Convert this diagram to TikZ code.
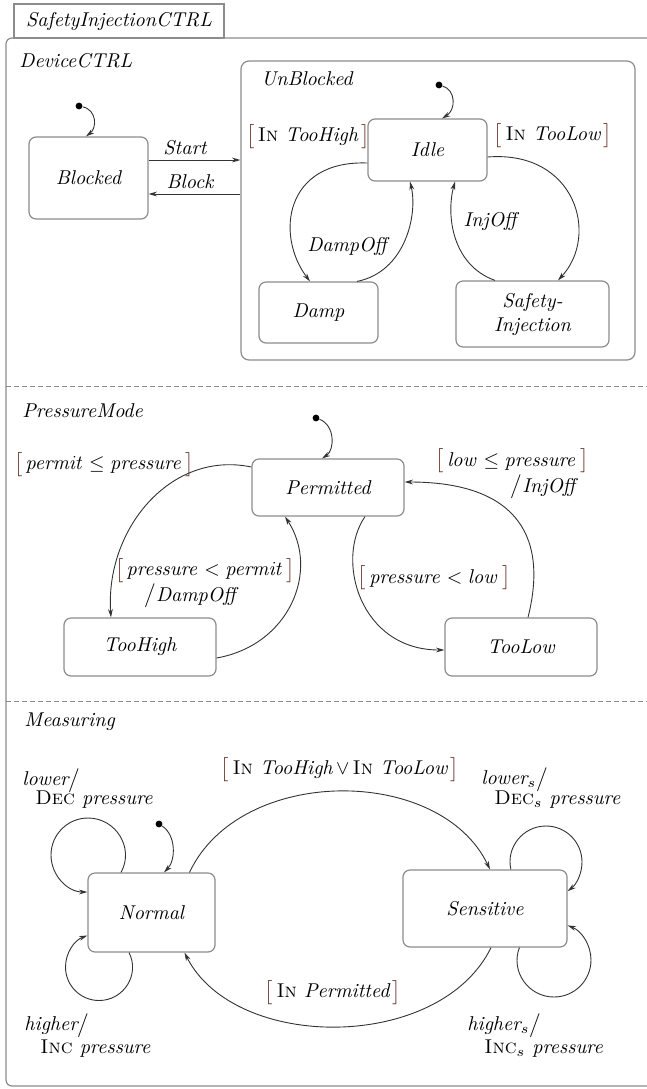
\documentclass[tikz,border=0pt]{standalone}
\usetikzlibrary{arrows.meta,calc}
\definecolor{brk}{RGB}{92,34,24}
\definecolor{frame}{RGB}{140,140,140}
\newcommand{\grd}[1]{\textcolor{brk}{\smash{$\big[$}}\,#1\,\textcolor{brk}{\smash{$\big]$}}}
\newcommand{\slsh}{\smash{$\big/$}}
\newcommand{\IN}{\textup{\textsc{In}}}
\newcommand{\DEC}{\textup{\textsc{Dec}}}
\newcommand{\INC}{\textup{\textsc{Inc}}}
\begin{document}
\begin{tikzpicture}[x=0.5pt,y=-0.5pt,
  stbox/.style={draw=frame, line width=0.6pt, rounded corners=3.5pt, font=\itshape, align=center, inner sep=0pt},
  lbl/.style={font=\itshape, inner sep=0pt, align=center},
  trans/.style={draw=black!80, line width=0.45pt, -{Stealth[length=4.2pt,width=2.4pt]}},
  initdot/.style={circle, fill=black, inner sep=0pt, minimum size=3.4pt},
  sep/.style={draw=frame, line width=0.5pt, dash pattern=on 2.5pt off 1.5pt}]
\useasboundingbox (0,0) rectangle (647,1089);

% top-level chart with its name tab
\node[draw=frame, line width=0.6pt, minimum width=105pt, minimum height=17pt, inner sep=0pt, font=\itshape] (tab) at (119,21) {SafetyInjectionCTRL};
\draw[frame, line width=0.6pt, rounded corners=3pt] (700,38) -- (6,38) -- (6,1086) -- (700,1086);
\draw[sep] (6,386) -- (647,386);
\draw[sep] (6,701) -- (647,701);

% ---------------- DeviceCTRL ----------------
\node[lbl, anchor=west] (devname) at (19,61) {DeviceCTRL};
\node[stbox, minimum width=59.5pt, minimum height=41pt] (blocked) at (88.5,178) {Blocked};
\node[stbox, minimum width=197pt, minimum height=149.5pt, rounded corners=4pt] (ub) at (438,210.5) {};
\node[lbl, anchor=west] (ubname) at (261,79) {UnBlocked};
\node[stbox, minimum width=59.5pt, minimum height=31pt] (idle) at (427.5,150) {Idle};
\node[stbox, minimum width=59.5pt, minimum height=30.5pt] (damp) at (318.5,312.5) {Damp};
\node[stbox, minimum width=76.5pt, minimum height=33pt] (si) at (532.5,314) {\baselineskip=9pt Safety-\\Injection};

\node[initdot] (i1) at (79,106) {};
\draw[trans] (i1) .. controls (97,110) and (97,128) .. ($(blocked.north)+(-2.5,0)$);
\node[initdot] (i2) at (439,85) {};
\draw[trans] (i2) .. controls (456,90) and (456,110) .. ($(idle.north)+(14.5,0)$);

\coordinate (s1) at ($(blocked.east)+(0,-18)$);
\draw[trans] (s1) -- (s1 -| ub.west);
\node[lbl] (lstart) at (185,148) {Start};
\coordinate (b1) at ($(blocked.east)+(0,16)$);
\draw[trans] (b1 -| ub.west) -- (b1);
\node[lbl] (lblock) at (190,182) {Block};

\draw[trans] ($(idle.west)+(0,13)$) .. controls (285,160) and (275,235) .. ($(damp.north)+(-8.5,0)$);
\draw[trans] ($(damp.north)+(38.5,0)$) .. controls (405,272) and (418,215) .. ($(idle.south)+(-17.5,0)$);
\draw[trans] ($(idle.east)+(0,7)$) .. controls (575,150) and (600,235) .. ($(si.north)+(25.5,0)$);
\draw[trans] ($(si.north)+(-37.5,0)$) .. controls (452,265) and (446,215) .. ($(idle.south)+(27.5,0)$);

\node[lbl] (g1) at (308,137) {\grd{\IN\ TooHigh}};
\node[lbl] (g2) at (553,134) {\grd{\IN\ TooLow}};
\node[lbl] (ldampoff) at (347,246) {DampOff};
\node[lbl] (linjoff) at (490,221) {InjOff};

% ---------------- PressureMode ----------------
\node[lbl, anchor=west] (pmname) at (22,411) {PressureMode};
\node[stbox, minimum width=76pt, minimum height=28.5pt] (perm) at (328,487.5) {Permitted};
\node[stbox, minimum width=76pt, minimum height=29pt] (toohigh) at (140,647) {TooHigh};
\node[stbox, minimum width=76pt, minimum height=29pt] (toolow) at (521,647) {TooLow};

\node[initdot] (i3) at (316,418) {};
\draw[trans] (i3) .. controls (335,425) and (335,450) .. ($(perm.north)+(-6,0)$);

\draw[trans] ($(perm.west)+(0,-20.5)$) .. controls (170,450) and (105,530) .. ($(toohigh.north)+(-29,0)$);
\draw[trans] ($(toohigh.east)+(0,11)$) .. controls (290,645) and (320,570) .. ($(perm.south)+(-43,0)$);
\draw[trans] ($(perm.south)+(37,0)$) .. controls (335,560) and (360,650) .. ($(toolow.west)+(0,3)$);
\draw[trans] ($(toolow.north)+(7,0)$) .. controls (550,530) and (510,482) .. ($(perm.east)+(0,-5.5)$);

\node[lbl] (g3) at (104,465) {\grd{$\mathit{permit}\leq\mathit{pressure}$}};
\node[lbl] (g4) at (205,571) {\grd{$\mathit{pressure}<\mathit{permit}$}};
\node[lbl] (a4) at (190,596) {\slsh DampOff};
\node[lbl] (g5) at (434,578) {\grd{$\mathit{pressure}<\mathit{low}$}};
\node[lbl] (g6) at (512,461) {\grd{$\mathit{low}\leq\mathit{pressure}$}};
\node[lbl] (a6) at (543,487) {\slsh InjOff};

% ---------------- Measuring ----------------
\node[lbl, anchor=west] (msname) at (24,722) {Measuring};
\node[stbox, minimum width=63.5pt, minimum height=39.5pt] (normal) at (151.5,912.5) {Normal};
\node[stbox, minimum width=82pt, minimum height=38.5pt] (sens) at (485,908.5) {Sensitive};

\node[initdot] (i4) at (159,824) {};
\draw[trans] (i4) .. controls (176,835) and (176,860) .. ($(normal.north)+(12.5,0)$);

\draw[trans] ($(normal.north)+(38,0)$) .. controls (240,765) and (440,765) .. ($(sens.north)+(5,0)$);
\draw[trans] ($(sens.south)+(6,0)$) .. controls (440,1052) and (235,1052) .. ($(normal.south)+(33,0)$);

% self loops, each a near-circle
\draw[trans] ($(normal.north)+(-30.5,0)$)
  .. controls (134.5,848.3) and (116.1,818) .. (88,818)
  .. controls (67.6,818) and (51,834.6) .. (51,855)
  .. controls (51,875.4) and (67.6,892) .. ($(normal.west)+(0,-20.5)$);
\draw[trans] ($(normal.south)+(-22.5,0)$)
  .. controls (140.2,974.3) and (123.9,1000.5) .. (99,1000.5)
  .. controls (80.5,1000.5) and (65.5,985.5) .. (65.5,967)
  .. controls (65.5,952.9) and (74.3,940.3) .. ($(normal.west)+(0,23)$);
\draw[trans] ($(sens.north)+(25.9,0)$)
  .. controls (505.8,847.5) and (522.9,826) .. (546,826)
  .. controls (565.9,826) and (582,842.1) .. (582,862)
  .. controls (582,873.6) and (576.4,884.4) .. ($(sens.east)+(0,-17.3)$);
\draw[trans] ($(sens.south)+(34.4,0)$)
  .. controls (510.3,971.2) and (528.2,997) .. (554,997)
  .. controls (574.4,997) and (591,980.4) .. (591,960)
  .. controls (591,944.6) and (581.4,930.8) .. ($(sens.east)+(0,16.9)$);

\node[lbl] (g7) at (340,770) {\grd{\IN\ TooHigh$\,\vee\,$\IN\ TooLow}};
\node[lbl] (g8) at (333,991) {\grd{\IN\ Permitted}};

\node[lbl, anchor=west] (n1a) at (22,779) {lower\slsh};
\node[lbl, anchor=west] (n1b) at (35,800) {\DEC\ pressure};
\node[lbl, anchor=west] (n2a) at (24,1026) {higher\slsh};
\node[lbl, anchor=west] (n2b) at (40,1049) {\INC\ pressure};
\node[lbl, anchor=west] (s1a) at (481,779) {lower$_s$\slsh};
\node[lbl, anchor=west] (s1b) at (494,800) {\DEC$_s$ pressure};
\node[lbl, anchor=west] (s2a) at (467,1026) {higher$_s$\slsh};
\node[lbl, anchor=west] (s2b) at (484,1049) {\INC$_s$ pressure};
\end{tikzpicture}
\end{document}
